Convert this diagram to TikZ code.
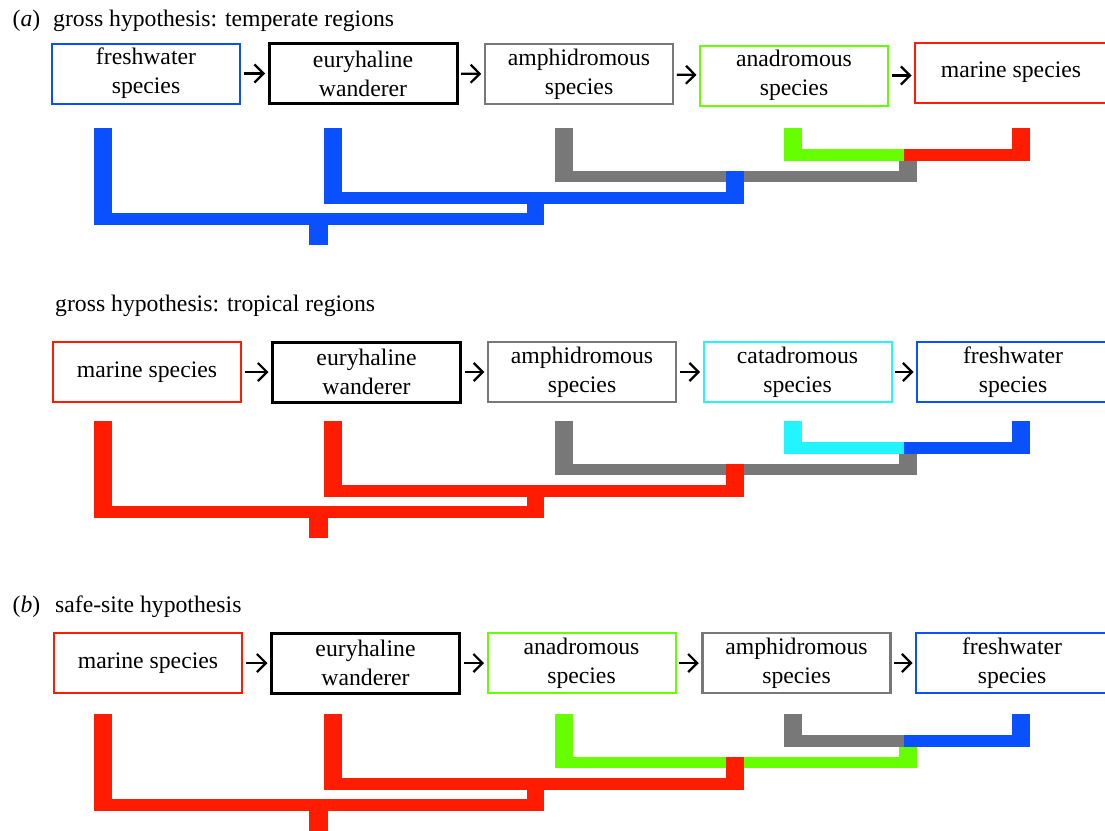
\documentclass[tikz,border=0pt]{standalone}
\usepackage{fontspec}
\setmainfont{Liberation Serif}
\usetikzlibrary{arrows.meta}
\definecolor{cblue}{RGB}{10,80,255}
\definecolor{cred}{RGB}{255,28,0}
\definecolor{cgreen}{RGB}{102,255,0}
\definecolor{cgray}{RGB}{120,120,120}
\definecolor{ccyan}{RGB}{34,245,255}
% #1 = vertical offset, #2..#6 = colours (outer, second, third, left pair, right pair)
\newcommand\cladetree[6]{%
  \begin{scope}[shift={(0,#1)}]
    % innermost pair
    \fill[#5] (784,128) rectangle (802,161);
    \fill[#5] (784,149) rectangle (904,161);
    \fill[#6] (904,149) rectangle (1030,161);
    \fill[#6] (1012,128) rectangle (1030,161);
    \fill[#4] (899,161) rectangle (917,182);
    % second clade
    \fill[#4] (555,128) rectangle (573,182);
    \fill[#4] (555,171) rectangle (917,182);
    \fill[#3] (726,171) rectangle (744,204);
    % third clade
    \fill[#3] (324,128) rectangle (342,204);
    \fill[#3] (324,192) rectangle (744,204);
    \fill[#2] (527,192) rectangle (544,225);
    % outer clade
    \fill[#2] (93.6,128) rectangle (111.8,225);
    \fill[#2] (93.6,213) rectangle (544,225);
    \fill[#2] (309,213) rectangle (328,245);
  \end{scope}}
\begin{document}
\begin{tikzpicture}[x=1pt,y=-1pt,
  box/.style={draw, line width=2pt, minimum width=188pt, minimum height=60pt,
    inner sep=0pt, align=center, font=\fontsize{23.7}{29}\selectfont},
  lastbox/.style={box, minimum width=192pt},
  arr/.style={line width=2.2pt, -{Straight Barb[length=9pt,width=18pt]},
    shorten <=2.5pt, shorten >=2.5pt},
  title/.style={anchor=base west, inner sep=0pt, font=\fontsize{23.7}{29}\selectfont}]
\useasboundingbox (0,0) rectangle (1105,830);

% ---------- panel (a) temperate ----------
\node[title] (la) at (12.5,26) {(\textit{a})};
\node[title] (ta) at (53,26) {gross hypothesis: temperate regions};
\node[box, draw=cblue] (a1) at (146,73.5) {freshwater\\species};
\node[box, draw=black, line width=3pt] (a2) at (363,73.5) {euryhaline\\wanderer};
\node[box, draw=cgray, line width=2.5pt] (a3) at (579,74) {amphidromous\\species};
\node[box, draw=cgreen] (a4) at (794,75.5) {anadromous\\species};
\node[lastbox, draw=cred] (a5) at (1011,72.5) {marine species};
\draw[arr] (a1) -- (a2);
\draw[arr] (a2) -- (a3);
\draw[arr] (a3) -- (a4);
\draw[arr] (a4.east) -- (a5.west |- a4.east);
\cladetree{0}{cblue}{cblue}{cgray}{cgreen}{cred}

% ---------- panel (a) tropical ----------
\node[title] (tt) at (55,311) {gross hypothesis: tropical regions};
\node[box, draw=cred] (t1) at (147,372) {marine species};
\node[box, draw=black, line width=3pt] (t2) at (366.5,372) {euryhaline\\wanderer};
\node[box, draw=cgray, line width=2.5pt] (t3) at (582,372) {amphidromous\\species};
\node[box, draw=ccyan] (t4) at (797.5,372) {catadromous\\species};
\node[lastbox, draw=cblue] (t5) at (1013,372) {freshwater\\species};
\draw[arr] (t1) -- (t2);
\draw[arr] (t2) -- (t3);
\draw[arr] (t3) -- (t4);
\draw[arr] (t4) -- (t5);
\cladetree{293}{cred}{cred}{cgray}{ccyan}{cblue}

% ---------- panel (b) safe-site ----------
\node[title] (lb) at (12.5,612) {(\textit{b})};
\node[title] (tb) at (55,612) {safe-site hypothesis};
\node[box, draw=cred] (b1) at (148,663) {marine species};
\node[box, draw=black, line width=3pt] (b2) at (365.5,663) {euryhaline\\wanderer};
\node[box, draw=cgreen] (b3) at (581.5,663) {anadromous\\species};
\node[box, draw=cgray, line width=2.5pt] (b4) at (796.5,663) {amphidromous\\species};
\node[lastbox, draw=cblue] (b5) at (1012,663) {freshwater\\species};
\draw[arr] (b1) -- (b2);
\draw[arr] (b2) -- (b3);
\draw[arr] (b3) -- (b4);
\draw[arr] (b4) -- (b5);
\cladetree{586}{cred}{cred}{cgreen}{cgray}{cblue}
\end{tikzpicture}
\end{document}
